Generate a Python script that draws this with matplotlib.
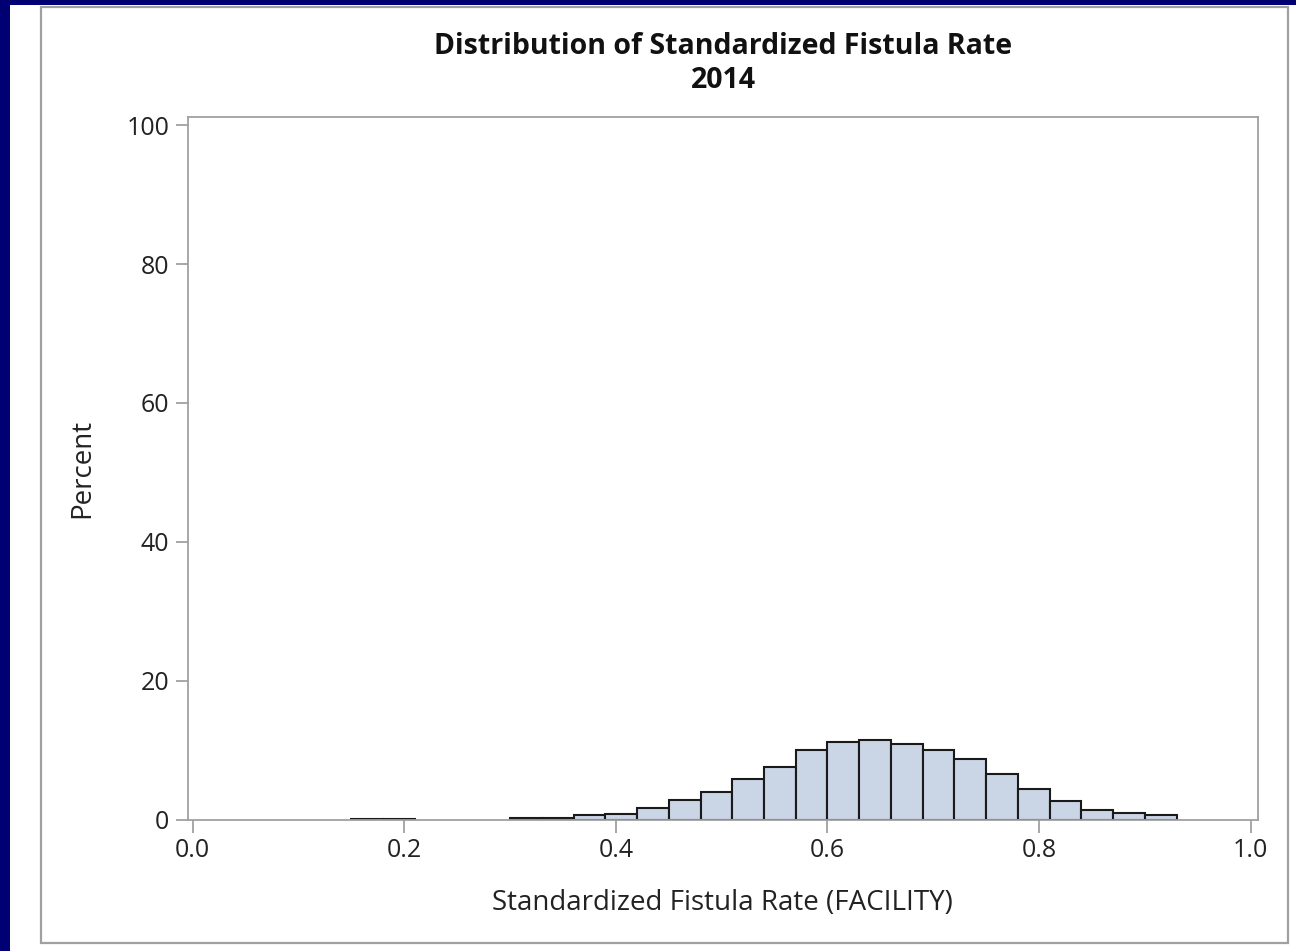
import numpy as np
import matplotlib
matplotlib.use("Agg")
import matplotlib.pyplot as plt
from matplotlib.patches import Rectangle

# histogram data (bin width 0.03)
bin_left = [0.15, 0.18, 0.30, 0.33, 0.36, 0.39, 0.42, 0.45, 0.48, 0.51, 0.54, 0.57,
            0.60, 0.63, 0.66, 0.69, 0.72, 0.75, 0.78, 0.81, 0.84, 0.87, 0.90]
percent = [0.1, 0.1, 0.2, 0.25, 0.6, 0.85, 1.6, 2.8, 3.9, 5.8, 7.5, 10.0,
           11.2, 11.4, 10.9, 10.0, 8.7, 6.6, 4.35, 2.7, 1.4, 0.94, 0.6]
bin_width = 0.03
xticks = [0.0, 0.2, 0.4, 0.6, 0.8, 1.0]
yticks = [0, 20, 40, 60, 80, 100]

plt.rcParams['font.family'] = ['Open Sans', 'DejaVu Sans']

W, H = 1296, 951
fig = plt.figure(figsize=(W / 100, H / 100), dpi=100)
fig.patch.set_facecolor('#000073')

# white panel and grey frame, behind everything
fig.add_artist(Rectangle((10 / W, 0), 1, 1 - 5 / H, transform=fig.transFigure,
                         facecolor='white', edgecolor='none', zorder=-10))
fig.add_artist(Rectangle((41 / W, 1 - 943 / H), (1288 - 41) / W, (943 - 7) / H,
                         transform=fig.transFigure, facecolor='none',
                         edgecolor='#a0a0a0', linewidth=1.6, zorder=-9))

ax = fig.add_axes([187.5 / W, 1 - 819.5 / H, (1258 - 187.5) / W, (819.5 - 117) / H])
ax.set_facecolor('white')
ax.bar(bin_left, percent, width=bin_width, align='edge', color='#cad5e5',
       edgecolor='#1a1a1a', linewidth=1.5, zorder=2)

ax.set_xlim(-0.005, 1.007)
ax.set_ylim(0, 101.2)
ax.set_xticks(xticks)
ax.set_xticklabels(['%.1f' % v for v in xticks])
ax.set_yticks(yticks)

for s in ax.spines.values():
    s.set_color('#a0a0a0')
    s.set_linewidth(1.3)
ax.tick_params(direction='out', length=9, width=1.3, color='#a0a0a0',
               labelsize=18, labelcolor='#222222', pad=4)

fig.text(722 / W, 1 - 903 / H, 'Standardized Fistula Rate (FACILITY)', ha='center',
         va='center', fontsize=20, color='#222222')
fig.text(82 / W, 1 - 468 / H, 'Percent', ha='center', va='center', rotation=90,
         fontsize=20, color='#222222')

fig.text(723 / W, 1 - 47 / H, 'Distribution of Standardized Fistula Rate', ha='center',
         va='center', fontsize=20.5, fontweight='bold', color='#111111')
fig.text(723 / W, 1 - 80 / H, '2014', ha='center', va='center', fontsize=20.5,
         fontweight='bold', color='#111111')

fig.savefig('out.png', dpi=100, facecolor=fig.get_facecolor())
